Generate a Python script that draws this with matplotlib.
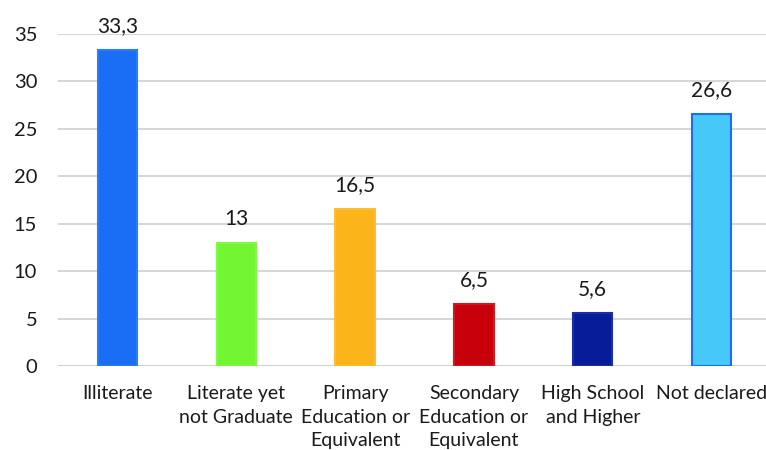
import matplotlib
matplotlib.use("Agg")
import matplotlib.pyplot as plt

categories = ["Illiterate", "Literate yet\nnot Graduate", "Primary\nEducation or\nEquivalent",
              "Secondary\nEducation or\nEquivalent", "High School\nand Higher", "Not declared"]
values = [33.3, 13, 16.5, 6.5, 5.6, 26.6]
labels = ["33,3", "13", "16,5", "6,5", "5,6", "26,6"]
colors = ["#1a6ef5", "#72f532", "#fbb41a", "#c8000c", "#061c98", "#46c8f8"]
edges = ["#2a7cf8", "#80f845", "#fbbd35", "#d01a20", "#1a2ea8", "#1a6ef5"]
yticks = [0, 5, 10, 15, 20, 25, 30, 35]

plt.rcParams['font.family'] = ['Lato', 'DejaVu Sans']
fig = plt.figure(figsize=(7.66, 4.5), dpi=100)
ax = fig.add_axes([58/766, 1-366/450, 713/766, (366-34)/450])
x = list(range(len(categories)))
ax.bar(x, values, width=0.33, color=colors, edgecolor=edges, linewidth=1.5, zorder=3)
for xi, v, l in zip(x, values, labels):
    ax.annotate(l, (xi, v), xytext=(0, 13), textcoords="offset points",
                ha="center", va="baseline", fontsize=15, color="#1a1a1a")
ax.set_xlim(-0.5, len(categories) - 0.5)
ax.set_ylim(0, 35)
ax.set_yticks(yticks)
ax.set_yticklabels([str(t) for t in yticks], fontsize=14.5, color="#1a1a1a")
ax.set_xticks(x)
ax.set_xticklabels(categories, fontsize=14, color="#1a1a1a", linespacing=1.45)
ax.tick_params(axis="y", length=0, pad=15)
ax.tick_params(axis="x", length=0, pad=14)
ax.yaxis.grid(True, color="#d0d0d0", linewidth=1.2, zorder=0)
for s in ax.spines.values():
    s.set_visible(False)
ax.axhline(0, color="#c8c8c8", linewidth=1.2, zorder=1)
fig.savefig("out.png", dpi=100, facecolor="white")
